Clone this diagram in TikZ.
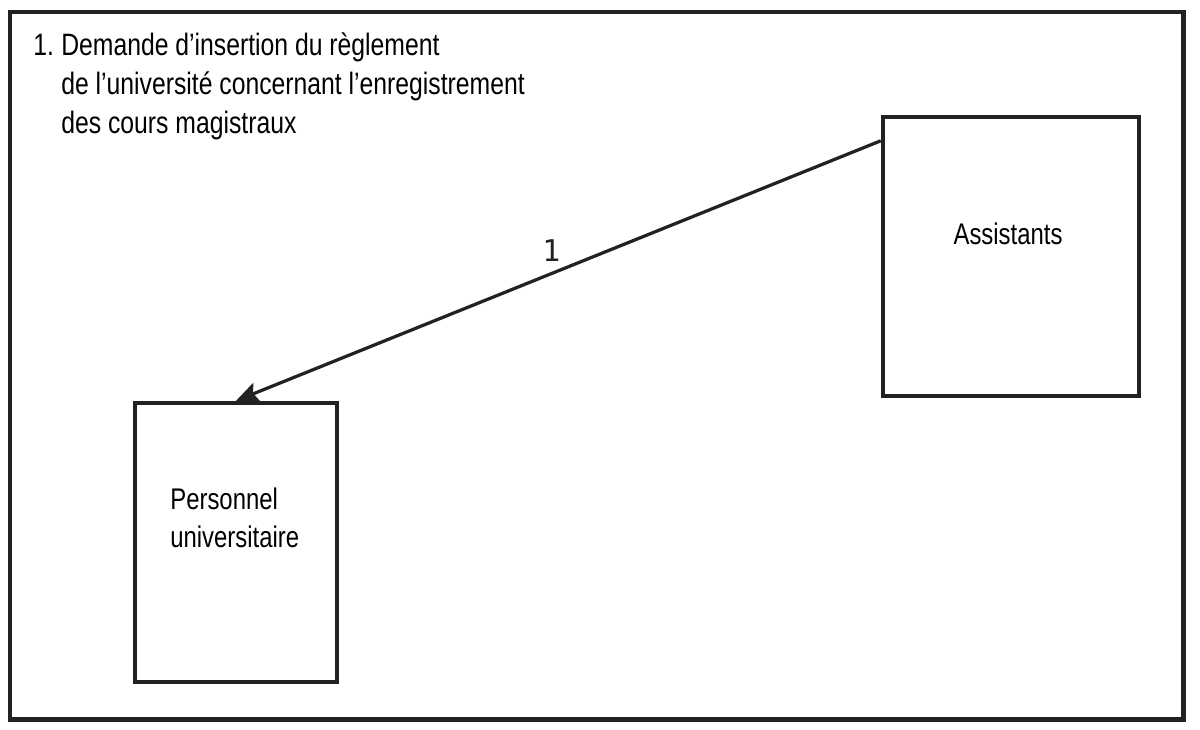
\documentclass[tikz,border=0pt]{standalone}
\usepackage{fontspec}
\setmainfont[FakeStretch=0.8]{Liberation Sans}
\newfontfamily\numfont{DejaVu Sans Mono}
\usetikzlibrary{arrows.meta}
\usetikzlibrary{calc}
\definecolor{ink}{RGB}{34,34,34}
\tikzset{
  box/.style={draw=ink, line width=0.09cm, minimum width=#1, minimum height=5.58cm, inner sep=0pt},
  lbl/.style={font=\fontsize{17}{22}\selectfont, text=black, inner sep=0pt, align=left}
}

\begin{document}
\begin{tikzpicture}[x=0.02cm, y=-0.02cm]
    \useasboundingbox (0,0) rectangle (1200,730);
    \draw[ink, line width=0.1cm] (10,12) rectangle (1183,719);

    \node[lbl, anchor=north west, font=\fontsize{17.6}{22.3}\selectfont] (titre) at (33,32)
        {\makebox[0.56cm][l]{1.}Demande d’insertion du règlement\\
         \hspace*{0.56cm}de l’université concernant l’enregistrement\\
         \hspace*{0.56cm}des cours magistraux};

    \node[box=5.12cm] (assist) at (1011,256.5) {};
    \node[box=4.04cm] (pers) at (236,542.5) {};
    \node[lbl] (tassist) at (1008,234) {Assistants};
    \node[lbl, anchor=north west] (tpers) at (170,487) {Personnel\\universitaire};

    \draw[ink, line width=0.065cm, -{Stealth[length=0.45cm, width=0.4cm, inset=0.08cm]}]
        ($(assist.north west)+(0,26)$) -- (pers.north)
        node[midway, above=1pt, xshift=-0.14cm, font=\numfont\fontsize{17}{20}\selectfont, text=ink] (un) {1};
\end{tikzpicture}
\end{document}
